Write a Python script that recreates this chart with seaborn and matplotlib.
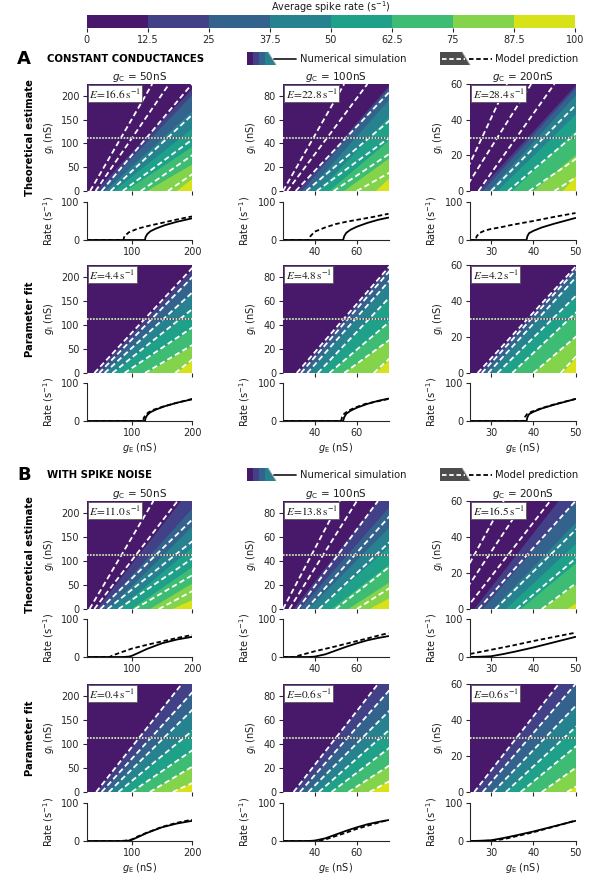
import numpy as np
import matplotlib
matplotlib.use("Agg")
import matplotlib.pyplot as plt
import seaborn as sns
from matplotlib.colors import ListedColormap, BoundaryNorm
from matplotlib.cm import ScalarMappable
from matplotlib.patches import Polygon

# ------------------------------------------------------------------ data
levels = [0, 12.5, 25, 37.5, 50, 62.5, 75, 87.5, 100]
level_labels = ["0", "12.5", "25", "37.5", "50", "62.5", "75", "87.5", "100"]
gC_values = [50, 100, 200]
gE_limits = [(25, 200), (25, 75), (25, 50)]
gI_max = [225, 90, 60]
gE_ticks = [[100, 200], [40, 60], [30, 40, 50]]
gI_ticks = [[0, 50, 100, 150, 200], [0, 20, 40, 60, 80], [0, 20, 40, 60]]

# contour boundaries (levels 12.5 ... 87.5): gE at gI=0 (x0) and at gI=gI_max (x1)
A_sim_x0 = [[40, 48, 56, 70, 90, 125, 175], [32, 34, 37, 42, 47, 54, 69], [27, 28, 29.5, 31.5, 35, 40, 47]]
A_sim_x1 = [[208, 218, 250, 294, 358, 429, 400], [76, 77, 82, 90, 107, 124, 123], [50.4, 51, 52.5, 57.5, 62, 70, 69.5]]
A_est_x0 = [[31, 40, 50, 65, 85, 115, 160], [25, 27, 31, 36, 41, 49, 60], [21.9, 23.5, 27, 30, 34, 39, 45]]
A_est_x1 = [[134, 162, 200, 255, 325, 370, 417], [54, 65, 79, 96, 110, 125, 150], [33.8, 39.5, 45, 55, 64, 76, 85]]
A_fit_x0 = [[38, 46, 55, 68, 88, 122, 172], [31.5, 33.5, 36.5, 41.5, 47, 54, 68], [26.8, 27.8, 29.3, 31.5, 35, 40, 46.5]]
A_fit_x1 = [[205, 220, 250, 292, 355, 425, 400], [76, 78, 82, 90, 107, 124, 124], [50.4, 51.2, 52.8, 57.5, 62, 70, 70]]

B_sim_x0 = [[42, 50, 62, 78, 100, 130, 168], [30, 33, 37, 42, 48, 56, 66], [26, 28, 30.5, 33.5, 37, 42, 48]]
B_sim_x1 = [[182, 212, 244, 294, 360, 430, 560], [70, 78, 88, 100, 115, 135, 160], [46, 50, 55, 61, 68, 78, 90]]
B_est_x0 = [[30, 38, 48, 60, 78, 105, 145], [25, 28, 32, 36, 42, 50, 60], [19, 21, 24, 27, 31, 36, 42]]
B_est_x1 = [[136, 176, 232, 284, 340, 410, 480], [52, 60, 70, 82, 96, 115, 140], [33, 38, 44, 50, 57, 66, 76]]
B_fit_x0 = [[41, 50, 62, 78, 100, 130, 168], [30, 33, 37, 42, 48, 56, 66], [26, 28, 30.5, 33.5, 37, 42, 48]]
B_fit_x1 = [[183, 213, 244, 294, 360, 430, 560], [70, 78, 88, 100, 115, 135, 160], [46, 50, 55, 61, 68, 78, 90]]

# error values
A_est_E = [16.6, 22.8, 28.4]
A_fit_E = [4.4, 4.8, 4.2]
B_est_E = [11.0, 13.8, 16.5]
B_fit_E = [0.4, 0.6, 0.6]

# rate along the dotted line (gI = gI_max / 2)
A_sim_gE = [[25, 122, 123, 126, 131, 140, 155, 175, 200], [25, 53.5, 54, 55, 57, 60, 65, 70, 75], [25, 38.4, 38.6, 39, 40, 42, 45, 50]]
A_sim_r = [[0, 0, 8, 16, 23, 30, 39, 48, 57], [0, 0, 10, 19, 27, 35, 45, 53, 59], [0, 0, 10, 18, 24, 33, 43, 58]]
A_est_gE = [[25, 86, 88, 95, 110, 130, 150, 175, 200], [25, 37, 38, 40, 45, 50, 55, 62, 68, 75], [25, 26.3, 26.6, 27.2, 28.5, 30, 32.5, 35, 40, 45, 50]]
A_est_r = [[0, 0, 10, 20, 30, 38, 45, 54, 62], [0, 0, 10, 22, 33, 42, 48, 55, 61, 69], [0, 0, 10, 18, 25, 29, 34, 40, 50, 61, 71]]
A_fit_gE = [[25, 119, 120, 123, 128, 137, 150, 175, 200], [25, 52.5, 53, 54, 56, 59, 64, 70, 75], [25, 37.8, 38, 38.5, 39.5, 42, 45, 50]]
A_fit_r = [[0, 0, 8, 16, 23, 30, 37, 48, 58], [0, 0, 10, 19, 27, 35, 45, 52, 58], [0, 0, 10, 18, 24, 34, 44, 58]]

B_sim_gE = [[25, 85, 95, 100, 110, 125, 150, 175, 200], [25, 37, 40, 45, 50, 55, 60, 65, 70, 75], [25, 27, 30, 33, 36, 40, 45, 50]]
B_sim_r = [[0, 0, 1, 3, 10, 21, 36, 46, 53], [0, 0, 1, 7, 17, 27, 36, 44, 50, 55], [0, 0.5, 2, 8, 15, 25, 39, 53]]
B_est_gE = [[25, 63, 70, 80, 100, 125, 150, 175, 200], [25, 30, 40, 50, 60, 70, 75], [25, 30, 35, 40, 45, 50]]
B_est_r = [[0, 0, 5, 11, 22, 32, 41, 50, 58], [0, 0, 15, 28, 42, 56, 63], [8, 19, 30, 42, 53, 64]]
B_fit_gE = [[25, 80, 90, 100, 110, 125, 150, 175, 200], [25, 38, 42, 45, 50, 55, 60, 65, 70, 75], [25, 28, 30, 33, 35, 40, 45, 50]]
B_fit_r = [[0, 0, 1, 4, 12, 22, 37, 48, 56], [0, 0, 1, 4, 13, 22, 32, 40, 48, 56], [0, 0, 1, 5, 10, 23, 38, 54]]

# ------------------------------------------------------------------ style
sns.set_theme(style="ticks")
plt.rcParams["font.family"] = ["DejaVu Sans"]
plt.rcParams.update({
    "axes.linewidth": 0.8, "xtick.major.width": 0.8, "ytick.major.width": 0.8,
    "xtick.major.size": 3, "ytick.major.size": 3,
    "xtick.labelsize": 7, "ytick.labelsize": 7, "axes.labelsize": 7,
    "xtick.major.pad": 2, "ytick.major.pad": 2,
    "axes.edgecolor": "0.15", "xtick.color": "0.15", "ytick.color": "0.15",
    "text.color": "0.1", "axes.labelcolor": "0.1",
})

cmap = plt.get_cmap("viridis")
level_colors = [cmap((i + 0.5) / 8) for i in range(8)]

W, H = 602, 875
fig = plt.figure(figsize=(W / 100, H / 100), dpi=100)


def add_ax(x0, y0, x1, y1):
    return fig.add_axes([x0 / W, 1 - y1 / H, (x1 - x0) / W, (y1 - y0) / H])


ov = fig.add_axes([0, 0, 1, 1])
ov.set_xlim(0, W)
ov.set_ylim(H, 0)
ov.axis("off")

col_left = [86.5, 283, 470]
col_w = 105.5

# colorbar
cax = add_ax(86.5, 15, 575, 28)
sm = ScalarMappable(norm=BoundaryNorm(levels, 8), cmap=ListedColormap(level_colors))
cb = fig.colorbar(sm, cax=cax, orientation="horizontal", ticks=levels)
cb.ax.set_xticklabels(level_labels)
cb.outline.set_visible(False)
cax.tick_params(labelsize=7, length=3, width=0.8, pad=2)
cax.set_title("Average spike rate (s$^{-1}$)", fontsize=7, pad=2)


def draw_heat(ax, c, sim_x0, sim_x1, mod_x0, mod_x1, E, title=None):
    xl = gE_limits[c]
    ym = gI_max[c]
    ax.set_facecolor(level_colors[0])
    far = xl[1] + 10 * (xl[1] - xl[0])
    for k in range(7):
        ax.fill_betweenx([0, ym], [sim_x0[k], sim_x1[k]], [far, far],
                         color=level_colors[k + 1], lw=0)
    for k in range(7):
        ax.plot([mod_x0[k], mod_x1[k]], [0, ym], color="white", lw=1.3,
                ls=(0, (3, 1.8)), solid_capstyle="butt")
    ax.axhline(ym / 2, color="0.25", lw=1.1)
    ax.axhline(ym / 2, color="white", lw=1.1, ls=(0, (1, 1)))
    ax.set_xlim(*xl)
    ax.set_ylim(0, ym)
    ax.set_xticks(gE_ticks[c])
    ax.set_xticklabels([])
    ax.set_yticks(gI_ticks[c])
    for s in ax.spines.values():
        s.set_visible(False)
    ax.set_ylabel("$g_\\mathrm{I}$ (nS)")
    ax.text(0.025, 0.975, rf"$E\!=\!{E:.1f}\,\mathrm{{s}}^{{-1}}$", transform=ax.transAxes,
            fontsize=8.2, math_fontfamily="stix", ha="left", va="top",
            bbox=dict(boxstyle="square,pad=0.12", fc="white", ec="0.35", lw=0.6))
    if title:
        ax.set_title(title, fontsize=7.5, pad=3)


def draw_rate(ax, c, sim_gE, sim_r, mod_gE, mod_r, xlabel):
    sns.lineplot(x=sim_gE, y=sim_r, ax=ax, color="black", lw=1.3, sort=False)
    sns.lineplot(x=mod_gE, y=mod_r, ax=ax, color="black", lw=1.3, sort=False,
                 linestyle=(0, (2.5, 1.5)))
    ax.set_xlim(*gE_limits[c])
    ax.set_ylim(0, 100)
    ax.set_yticks([0, 100])
    ax.set_xticks(gE_ticks[c])
    sns.despine(ax=ax)
    ax.set_ylabel("Rate (s$^{-1}$)")
    if xlabel:
        ax.set_xlabel("$g_\\mathrm{E}$ (nS)", labelpad=2)


sections = [
    dict(rows=[(84, 191), (202, 240), (265, 373), (383, 421)],
         sim=(A_sim_x0, A_sim_x1), est=(A_est_x0, A_est_x1), fit=(A_fit_x0, A_fit_x1),
         E=(A_est_E, A_fit_E), sim_r=(A_sim_gE, A_sim_r), est_r=(A_est_gE, A_est_r),
         fit_r=(A_fit_gE, A_fit_r), letter="A", name="CONSTANT CONDUCTANCES", hy=58.5),
    dict(rows=[(501, 609), (619, 657), (684, 792), (803, 841)],
         sim=(B_sim_x0, B_sim_x1), est=(B_est_x0, B_est_x1), fit=(B_fit_x0, B_fit_x1),
         E=(B_est_E, B_fit_E), sim_r=(B_sim_gE, B_sim_r), est_r=(B_est_gE, B_est_r),
         fit_r=(B_fit_gE, B_fit_r), letter="B", name="WITH SPIKE NOISE", hy=474.5),
]

for sec in sections:
    r = sec["rows"]
    for c in range(3):
        x0 = col_left[c]
        x1 = x0 + col_w
        ah1 = add_ax(x0, r[0][0], x1, r[0][1])
        draw_heat(ah1, c, sec["sim"][0][c], sec["sim"][1][c], sec["est"][0][c], sec["est"][1][c],
                  sec["E"][0][c], title=f"$g_\\mathrm{{C}}$ = {gC_values[c]}nS")
        ar1 = add_ax(x0, r[1][0], x1, r[1][1])
        draw_rate(ar1, c, sec["sim_r"][0][c], sec["sim_r"][1][c],
                  sec["est_r"][0][c], sec["est_r"][1][c], False)
        ah2 = add_ax(x0, r[2][0], x1, r[2][1])
        draw_heat(ah2, c, sec["sim"][0][c], sec["sim"][1][c], sec["fit"][0][c], sec["fit"][1][c],
                  sec["E"][1][c])
        ar2 = add_ax(x0, r[3][0], x1, r[3][1])
        draw_rate(ar2, c, sec["sim_r"][0][c], sec["sim_r"][1][c],
                  sec["fit_r"][0][c], sec["fit_r"][1][c], True)
    hy = sec["hy"]
    ov.text(17, hy, sec["letter"], fontsize=13, fontweight="bold", va="center", ha="left", color="black")
    ov.text(47, hy + 0.5, sec["name"], fontsize=7.3, fontweight="bold", va="center", ha="left", color="black")
    ov.text(30, (r[0][0] + r[0][1]) / 2, "Theoretical estimate", rotation=90, fontsize=7.2,
            fontweight="bold", ha="center", va="center", color="black")
    ov.text(30, (r[2][0] + r[2][1]) / 2, "Parameter fit", rotation=90, fontsize=7.2,
            fontweight="bold", ha="center", va="center", color="black")
    # legend 1: simulation
    top, bot = hy - 6.5, hy + 6.5
    clip = Polygon([(247, top), (268, top), (276, bot), (247, bot)], closed=True,
                   transform=ov.transData, fc="none", ec="none")
    ov.add_patch(clip)
    edges = [247, 253, 259, 265, 280]
    for i in range(4):
        p = Polygon([(edges[i], top), (edges[i + 1], top), (edges[i + 1], bot), (edges[i], bot)],
                    closed=True, fc=level_colors[i], ec="none")
        ov.add_patch(p)
        p.set_clip_path(clip)
    ov.plot([268, 276], [top, bot], color="0.6", lw=0.6)
    ov.plot([274, 296], [hy, hy], color="0.15", lw=1.3)
    ov.text(300, hy, "Numerical simulation", fontsize=7.2, va="center", ha="left")
    # legend 2: model
    ov.add_patch(Polygon([(440, top), (462, top), (470, bot), (440, bot)], closed=True,
                         fc="0.3", ec="none"))
    ov.plot([462, 470], [top, bot], color="0.6", lw=0.6)
    ov.plot([442, 465], [hy, hy], color="white", lw=1.3, ls=(0, (2.5, 1.5)))
    ov.plot([469, 492], [hy, hy], color="black", lw=1.3, ls=(0, (2.5, 1.5)))
    ov.text(495, hy, "Model prediction", fontsize=7.2, va="center", ha="left")

fig.savefig("out.png", dpi=100)
